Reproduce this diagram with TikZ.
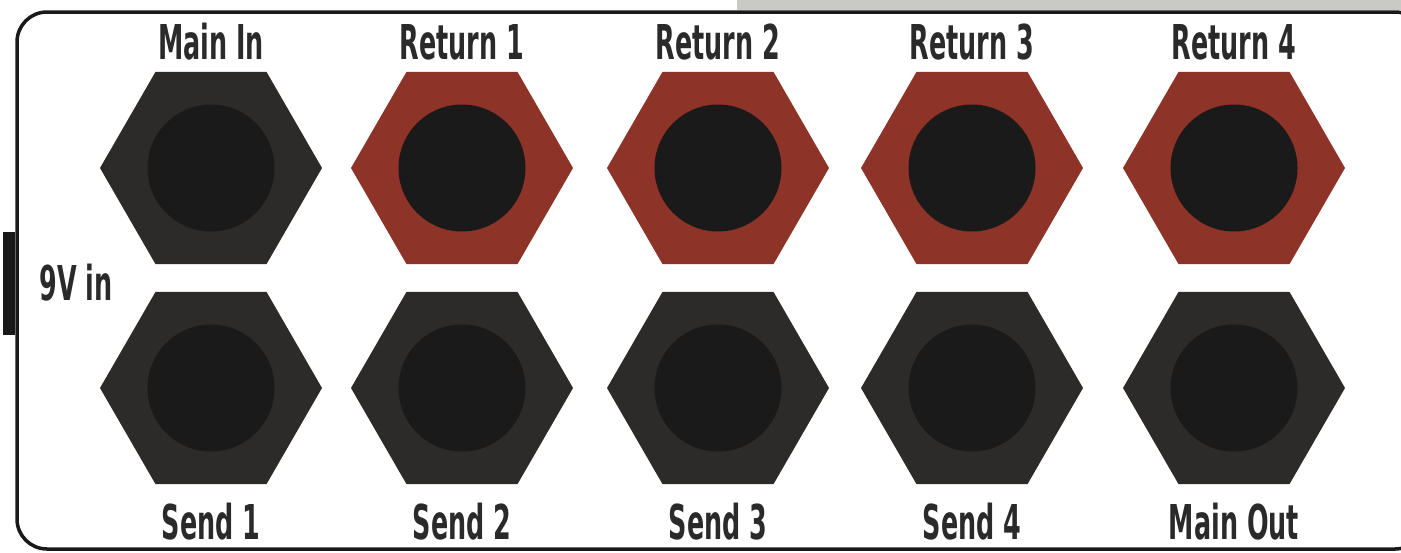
\documentclass[tikz,border=0pt]{standalone}
\usepackage{fontspec}
\usetikzlibrary{positioning,shapes.geometric}
\newfontfamily\jackfont{DejaVu Sans}[FakeStretch=0.53]
\definecolor{hexdark}{HTML}{2D2B29}
\definecolor{hexred}{HTML}{8E3328}
\definecolor{holeblack}{HTML}{1B1A1A}
\definecolor{labelgrey}{HTML}{2A2A2A}
\definecolor{bargrey}{HTML}{C9C9C5}
\tikzset{
  jack/.style={regular polygon, regular polygon sides=6, minimum size=111pt, inner sep=0pt},
  darkjack/.style={jack, fill=hexdark},
  redjack/.style={jack, fill=hexred},
  hole/.style={circle, fill=holeblack, minimum size=63.5pt, inner sep=0pt},
  lbl/.style={font=\jackfont\bfseries\fontsize{24pt}{24pt}\selectfont, text=labelgrey, inner sep=0pt},
  case/.style={draw=black!90, line width=1.75pt, rounded corners=15pt}
}
\begin{document}
\begin{tikzpicture}[x=0.5pt, y=-0.5pt]
\useasboundingbox (0,0) rectangle (1401,552);
\clip (0,0) rectangle (1401,552);
\fill[white] (0,0) rectangle (1401,552);
% enclosure
\fill[bargrey] (737,0) rectangle (1401,10);
\draw[case] (17,12) rectangle (1425,549);
\fill[black!90] (3,232) rectangle (15,335);
% top row
\node[darkjack] (in) at (211,168) {};
\node[redjack] (ret1) at (462,168) {};
\node[redjack] (ret2) at (718,168) {};
\node[redjack] (ret3) at (972,168) {};
\node[redjack] (ret4) at (1234,168) {};
% bottom row
\node[darkjack] (snd1) at (211,388) {};
\node[darkjack] (snd2) at (462,388) {};
\node[darkjack] (snd3) at (718,388) {};
\node[darkjack] (snd4) at (972,388) {};
\node[darkjack] (out) at (1234,388) {};
% holes
\node[hole] (inhole) at (in.center) {};
\node[hole] (ret1hole) at (ret1.center) {};
\node[hole] (ret2hole) at (ret2.center) {};
\node[hole] (ret3hole) at (ret3.center) {};
\node[hole] (ret4hole) at (ret4.center) {};
\node[hole] (snd1hole) at (snd1.center) {};
\node[hole] (snd2hole) at (snd2.center) {};
\node[hole] (snd3hole) at (snd3.center) {};
\node[hole] (snd4hole) at (snd4.center) {};
\node[hole] (outhole) at (out.center) {};
% labels
\node[lbl, above=5.5pt of in] (inlbl) {Main In};
\node[lbl, above=5.5pt of ret1] (ret1lbl) {Return 1};
\node[lbl, above=5.5pt of ret2] (ret2lbl) {Return 2};
\node[lbl, above=5.5pt of ret3] (ret3lbl) {Return 3};
\node[lbl, above=5.5pt of ret4] (ret4lbl) {Return 4};
\node[lbl, below=9pt of snd1] (snd1lbl) {Send 1};
\node[lbl, below=9pt of snd2] (snd2lbl) {Send 2};
\node[lbl, below=9pt of snd3] (snd3lbl) {Send 3};
\node[lbl, below=9pt of snd4] (snd4lbl) {Send 4};
\node[lbl, below=9pt of out] (outlbl) {Main Out};
\node[lbl] (powerlbl) at (76,283) {9V in};
\end{tikzpicture}
\end{document}
